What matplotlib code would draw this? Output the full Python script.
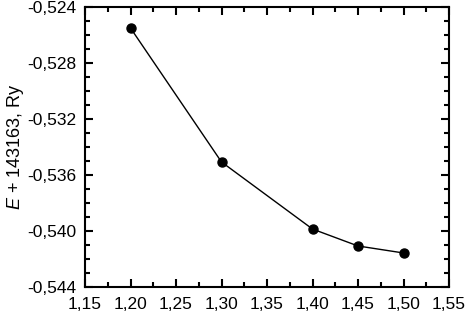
import matplotlib
matplotlib.use("Agg")
import matplotlib.pyplot as plt
from matplotlib.ticker import MultipleLocator, FuncFormatter

plt.rcParams['font.family'] = ['Liberation Sans', 'DejaVu Sans']
plt.rcParams['mathtext.fontset'] = 'custom'
plt.rcParams['mathtext.it'] = 'Liberation Sans:italic'
plt.rcParams['mathtext.rm'] = 'Liberation Sans'

# lattice parameter vs energy
x = [1.20, 1.30, 1.40, 1.45, 1.50]
energy = [-0.5255, -0.53507, -0.53986, -0.54107, -0.54157]

fig = plt.figure(figsize=(4.67, 3.13), dpi=100)
ax = fig.add_axes([85/467, 26/313, 364/467, 280/313])

ax.plot(x, energy, color='black', linewidth=1, marker='o', markersize=6.5)

ax.set_xlim(1.15, 1.55)
ax.set_ylim(-0.544, -0.524)
ax.xaxis.set_major_locator(MultipleLocator(0.05))
ax.xaxis.set_minor_locator(MultipleLocator(0.025))
ax.yaxis.set_major_locator(MultipleLocator(0.004))
ax.yaxis.set_minor_locator(MultipleLocator(0.001))
ax.xaxis.set_major_formatter(FuncFormatter(lambda v, p: f"{v:.2f}".replace('.', ',')))
ax.yaxis.set_major_formatter(FuncFormatter(lambda v, p: f"{v:.3f}".replace('.', ',')))

ax.tick_params(which='both', direction='in', top=True, right=True, width=1.5, labelsize=12.5)
ax.tick_params(which='major', length=6)
ax.tick_params(which='minor', length=3.5)
ax.tick_params(axis='x', which='major', pad=7)
ax.tick_params(axis='y', which='major', pad=6)
for s in ax.spines.values():
    s.set_linewidth(1.5)

ax.set_ylabel(r"$E$ + 143163, Ry", fontsize=13, labelpad=1)

fig.savefig("out.png", dpi=100)
